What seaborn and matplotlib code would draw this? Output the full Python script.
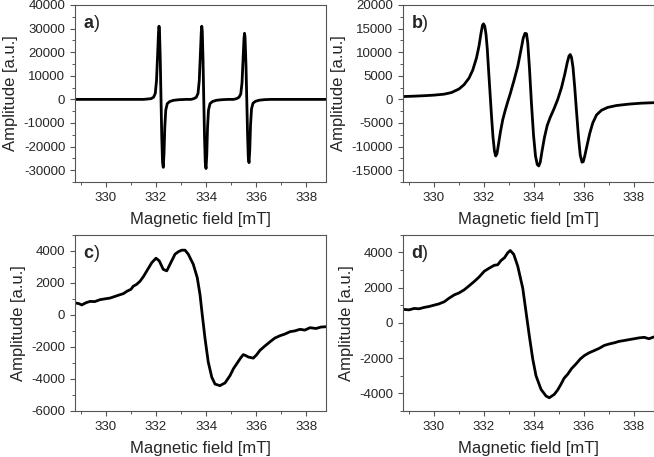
import matplotlib
matplotlib.use("Agg")
import matplotlib.pyplot as plt
import seaborn as sns
from matplotlib.ticker import MultipleLocator

# Magnetic field [mT] and amplitude [a.u.]
field_a = [328.76, 330.0, 331.0, 331.5, 331.8, 331.9, 331.97, 332.02, 332.06, 332.1, 332.12, 332.14,
           332.17, 332.2, 332.23, 332.26, 332.29, 332.32, 332.35, 332.39, 332.45, 332.55, 332.7,
           332.9, 333.2, 333.4, 333.51, 333.61, 333.68, 333.73, 333.77, 333.81, 333.83, 333.85,
           333.88, 333.91, 333.94, 333.97, 334.0, 334.03, 334.06, 334.1, 334.16, 334.26, 334.41,
           334.61, 334.9, 335.1, 335.22, 335.32, 335.39, 335.44, 335.48, 335.52, 335.54, 335.56,
           335.6, 335.63, 335.66, 335.69, 335.72, 335.75, 335.78, 335.82, 335.88, 335.98, 336.13,
           336.33, 336.6, 337.5, 338.78]
amp_a = [0, 0, 0, 0, 300, 900, 2500, 8000, 18000, 28500, 31000, 29000,
         17000, 0, -16000, -26500, -28800, -23000, -12000, -4500, -1800, -900, -400,
         -150, 0, 0, 300, 900, 2500, 8000, 18000, 28500, 31000, 29000,
         17000, 0, -16000, -26800, -29300, -23500, -12000, -4500, -1800, -900, -400,
         -150, 0, 0, 300, 900, 2300, 7000, 16500, 26000, 28000, 26500,
         14000, 0, -14000, -24500, -26800, -21500, -11000, -4000, -1600, -800, -350,
         -120, 0, 0, 0]

field_b = [328.76, 329.2, 329.6, 330.0, 330.4, 330.7, 331.0, 331.2, 331.4, 331.55, 331.7, 331.8,
           331.88, 331.94, 331.98, 332.03, 332.08, 332.13, 332.18, 332.24, 332.3, 332.36, 332.42,
           332.47, 332.52, 332.58, 332.66, 332.75, 332.85, 332.95, 333.05, 333.2, 333.35, 333.48,
           333.57, 333.64, 333.7, 333.75, 333.82, 333.9, 333.98, 334.06, 334.13, 334.19, 334.25,
           334.32, 334.42, 334.53, 334.65, 334.8, 334.95, 335.1, 335.23, 335.33, 335.4, 335.45,
           335.5, 335.56, 335.63, 335.7, 335.78, 335.85, 335.92, 335.97, 336.03, 336.12, 336.23,
           336.35, 336.5, 336.7, 336.95, 337.3, 337.8, 338.3, 338.8]
amp_b = [600, 680, 780, 900, 1100, 1450, 2200, 3100, 4500, 6200, 8800, 11300,
         14000, 15700, 16000, 15500, 13800, 10800, 6500, 1500, -3500, -8000, -11000,
         -12000, -11500, -9500, -6800, -4300, -2300, -500, 1200, 4000, 7000, 10500,
         13000, 14000, 13900, 12000, 6500, -1000, -7500, -12000, -13800, -14100, -13300,
         -11000, -8000, -5500, -3800, -2000, 0, 2500, 5300, 7800, 9200, 9500,
         8900, 6800, 2500, -2500, -8000, -11800, -13300, -13200, -12000, -9800, -7200,
         -5000, -3300, -2300, -1700, -1300, -1000, -800, -700]

field_c = [328.8, 328.92, 329.03, 329.2, 329.36, 329.55, 329.76, 329.95, 330.16, 330.35, 330.56,
           330.7, 330.83, 331.0, 331.09, 331.22, 331.36, 331.5, 331.63, 331.83, 332.0, 332.13,
           332.29, 332.43, 332.56, 332.76, 332.9, 333.03, 333.16, 333.29, 333.49, 333.65, 333.76,
           333.85, 333.96, 334.09, 334.23, 334.36, 334.48, 334.56, 334.66, 334.76, 334.96, 335.1,
           335.23, 335.38, 335.49, 335.6, 335.69, 335.89, 336.02, 336.16, 336.35, 336.56, 336.75,
           336.96, 337.15, 337.36, 337.55, 337.76, 337.95, 338.16, 338.4, 338.6, 338.8]
amp_c = [740, 700, 620, 760, 840, 830, 950, 1000, 1050, 1150, 1260,
         1330, 1470, 1600, 1790, 1900, 2100, 2400, 2740, 3260, 3540, 3370,
         2840, 2750, 3160, 3790, 3950, 4040, 4040, 3790, 3160, 2320, 1260,
         0, -1470, -2950, -3890, -4320, -4380, -4420, -4330, -4250, -3790, -3350,
         -3050, -2700, -2480, -2550, -2630, -2700, -2500, -2210, -1950, -1680, -1450,
         -1300, -1200, -1050, -1000, -900, -950, -800, -850, -760, -740]

field_d = [328.79, 329.0, 329.21, 329.4, 329.61, 329.8, 330.01, 330.2, 330.41, 330.6, 330.81,
           331.0, 331.21, 331.4, 331.61, 331.8, 332.01, 332.2, 332.41, 332.55, 332.68, 332.82,
           332.95, 333.05, 333.19, 333.35, 333.55, 333.68, 333.81, 333.95, 334.08, 334.28, 334.48,
           334.61, 334.81, 334.95, 335.08, 335.2, 335.35, 335.5, 335.68, 335.85, 336.01, 336.2,
           336.41, 336.6, 336.81, 337.0, 337.21, 337.4, 337.61, 337.8, 338.01, 338.2, 338.41,
           338.6, 338.79]
amp_d = [765, 740, 820, 800, 880, 930, 1010, 1080, 1200, 1400, 1590,
         1700, 1880, 2100, 2350, 2600, 2930, 3100, 3270, 3300, 3540, 3700,
         3980, 4110, 3890, 3220, 1970, 630, -710, -2050, -3000, -3770, -4150,
         -4250, -4060, -3800, -3480, -3150, -2910, -2600, -2330, -2050, -1860, -1700,
         -1570, -1450, -1280, -1200, -1130, -1050, -1000, -950, -900, -850, -820,
         -900, -800]

panels = [
    ("a", field_a, amp_a, (-35000, 40000), 10000),
    ("b", field_b, amp_b, (-17500, 20000), 5000),
    ("c", field_c, amp_c, (-6000, 5000), 2000),
    ("d", field_d, amp_d, (-5000, 5000), 2000),
]
positions = [
    [0.1147, 0.6018, 0.3838, 0.3873],
    [0.6162, 0.6018, 0.3838, 0.3873],
    [0.1147, 0.1007, 0.3838, 0.3855],
    [0.6162, 0.1007, 0.3838, 0.3855],
]

sns.set_style("ticks")
plt.rcParams['font.family'] = ['Liberation Sans', 'DejaVu Sans']
plt.rcParams['mathtext.fontset'] = 'custom'
plt.rcParams['mathtext.bf'] = 'Liberation Sans:bold'
plt.rcParams['mathtext.rm'] = 'Liberation Sans'
plt.rcParams['axes.unicode_minus'] = False

frame = '#555555'
fig = plt.figure(figsize=(6.54, 4.57), dpi=100)

for (tag, x, y, ylim, step), pos in zip(panels, positions):
    ax = fig.add_axes(pos)
    sns.lineplot(x=x, y=y, ax=ax, color='black', linewidth=2, estimator=None, sort=False)
    ax.set_xlim(328.76, 338.8)
    ax.set_ylim(*ylim)
    ax.xaxis.set_major_locator(MultipleLocator(2))
    ax.xaxis.set_minor_locator(MultipleLocator(1))
    ax.yaxis.set_major_locator(MultipleLocator(step))
    ax.yaxis.set_minor_locator(MultipleLocator(step / 2))
    ax.tick_params(which='major', direction='out', length=3.5, width=0.8, color=frame, labelsize=9.5)
    ax.tick_params(which='minor', direction='out', length=2, width=0.7, color=frame)
    for s in ax.spines.values():
        s.set_color(frame)
        s.set_linewidth(0.8)
    ax.set_xlabel('Magnetic field [mT]', fontsize=12, labelpad=6)
    ax.set_ylabel('Amplitude [a.u.]', fontsize=12)
    ax.text(0.03, 0.955, r'$\mathbf{%s}$)' % tag, transform=ax.transAxes, fontsize=13, va='top')

fig.savefig('out.png', dpi=100)
